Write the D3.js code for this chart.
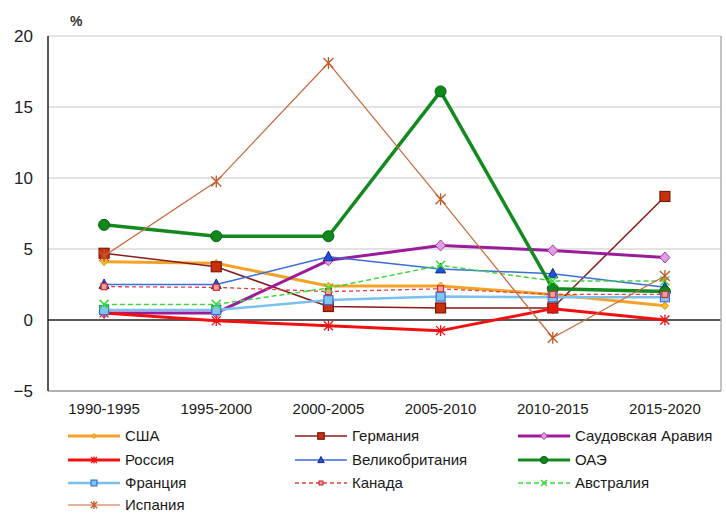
<!DOCTYPE html>
<html><head><meta charset="utf-8">
<script src="https://cdn.jsdelivr.net/npm/d3@7"></script>
<style>body{margin:0;background:#fff}svg{display:block;font-family:"Liberation Sans",Arial,sans-serif}</style>
</head><body>
<svg id="c" width="726" height="513"></svg>
<script>
const categories = ["1990-1995","1995-2000","2000-2005","2005-2010","2010-2015","2015-2020"];
const yTicks = [-5,0,5,10,15,20];
const usa = [4.1, 4.0, 2.4, 2.4, 1.8, 1.0];
const germany = [4.7, 3.75, 0.95, 0.85, 0.85, 8.7];
const saudi = [0.5, 0.5, 4.2, 5.25, 4.9, 4.4];
const russia = [0.5, -0.05, -0.4, -0.75, 0.8, 0.0];
const uk = [2.5, 2.5, 4.45, 3.6, 3.25, 2.3];
const uae = [6.7, 5.9, 5.9, 16.1, 2.2, 2.0];
const france = [0.7, 0.7, 1.4, 1.65, 1.6, 1.6];
const canada = [2.35, 2.3, 2.0, 2.2, 1.8, 1.8];
const australia = [1.1, 1.1, 2.25, 3.85, 2.75, 2.75];
const spain = [4.5, 9.75, 18.1, 8.5, -1.25, 3.1];

const seriesNames = ["США","Германия","Саудовская Аравия","Россия","Великобритания","ОАЭ","Франция","Канада","Австралия","Испания"];
const seriesValues = [usa, germany, saudi, russia, uk, uae, france, canada, australia, spain];
const styles = [
  {color:"#F5A22A", w:3, dash:null, marker:"diamond", fill:"#F8C020", stroke:"#E89010", size:7},
  {color:"#8B1A1A", w:1.5, dash:null, marker:"square", fill:"#C8300E", stroke:"#7A1A0A", size:10},
  {color:"#9A1C9A", w:3, dash:null, marker:"diamond", fill:"#E59BE8", stroke:"#A040A0", size:10},
  {color:"#F01010", w:3, dash:null, marker:"star", fill:"none", stroke:"#F01010", size:9},
  {color:"#3A6ED8", w:1.5, dash:null, marker:"triangle", fill:"#1E50E0", stroke:"#1A2A80", size:10},
  {color:"#128A20", w:3.5, dash:null, marker:"circle", fill:"#0E8A1A", stroke:"#0A5A10", size:11},
  {color:"#7CC0F0", w:2.5, dash:null, marker:"square", fill:"#80C4F0", stroke:"#3A6ED8", size:9},
  {color:"#E04040", w:1.3, dash:"4,3", marker:"square", fill:"#F8A0A0", stroke:"#D03030", size:6},
  {color:"#3CD83C", w:1.5, dash:"5,3", marker:"x", fill:"none", stroke:"#3CD83C", size:9},
  {color:"#C8683A", w:1.2, dash:null, marker:"star", fill:"none", stroke:"#C05A28", size:10}
];

const svg = d3.select("#c");
const L = 48, R = 721, T = 36, B = 391;
const x = d3.scaleBand().domain(categories).range([L, R]);
const y = d3.scaleLinear().domain([-5, 20]).range([B, T]);
const cx = c => x(c) + x.bandwidth()/2;

svg.append("g").selectAll("line").data(yTicks).join("line")
  .attr("x1", L).attr("x2", R).attr("y1", d=>y(d)).attr("y2", d=>y(d))
  .attr("stroke", d => d===0 ? "#222" : "#c8c8c8").attr("stroke-width", d => d===0?1.5:1.2);
svg.append("line").attr("x1",R).attr("x2",R).attr("y1",T).attr("y2",B).attr("stroke","#b0b0b0").attr("stroke-width",1.5);
svg.append("line").attr("x1",L).attr("x2",R).attr("y1",B).attr("y2",B).attr("stroke","#a0a0a0").attr("stroke-width",1.5);
svg.append("line").attr("x1",L).attr("x2",L).attr("y1",T).attr("y2",B).attr("stroke","#222").attr("stroke-width",1.5);

const yAxis = d3.axisLeft(y).tickValues(yTicks).tickSize(0).tickPadding(15);
const ya = svg.append("g").attr("transform",`translate(${L},0)`).call(yAxis);
ya.select(".domain").remove();
ya.selectAll("text").attr("font-size",17).attr("fill","#222").attr("font-family","Liberation Sans, Arial, sans-serif");

const xAxis = d3.axisBottom(x).tickSize(0).tickPadding(12);
const xa = svg.append("g").attr("transform",`translate(0,${B})`).call(xAxis);
xa.select(".domain").remove();
xa.selectAll("text").attr("font-size",15).attr("fill","#1a1a1a").attr("font-family","Liberation Sans, Arial, sans-serif");

svg.append("text").attr("x",70).attr("y",26).attr("font-size",14).attr("font-weight","bold").attr("fill","#333").text("%");

function drawMarker(g, st, px, py, scale) {
  const s = st.size*(scale||1), h = s/2;
  if (st.marker==="circle") g.append("circle").attr("cx",px).attr("cy",py).attr("r",h).attr("fill",st.fill).attr("stroke",st.stroke).attr("stroke-width",1);
  else if (st.marker==="square") g.append("rect").attr("x",px-h).attr("y",py-h).attr("width",s).attr("height",s).attr("fill",st.fill).attr("stroke",st.stroke).attr("stroke-width",1.2);
  else if (st.marker==="diamond") g.append("path").attr("d",`M${px},${py-h*1.1}L${px+h},${py}L${px},${py+h*1.1}L${px-h},${py}Z`).attr("fill",st.fill).attr("stroke",st.stroke).attr("stroke-width",1);
  else if (st.marker==="triangle") g.append("path").attr("d",`M${px},${py-h*1.1}L${px+h},${py+h*0.8}L${px-h},${py+h*0.8}Z`).attr("fill",st.fill).attr("stroke",st.stroke).attr("stroke-width",1);
  else if (st.marker==="x") g.append("path").attr("d",`M${px-h},${py-h}L${px+h},${py+h}M${px-h},${py+h}L${px+h},${py-h}`).attr("stroke",st.stroke).attr("stroke-width",1.5).attr("fill","none");
  else if (st.marker==="star") g.append("path").attr("d",`M${px-h},${py-h}L${px+h},${py+h}M${px-h},${py+h}L${px+h},${py-h}M${px},${py-h*1.2}L${px},${py+h*1.2}`).attr("stroke",st.stroke).attr("stroke-width",1.3).attr("fill","none");
}

const line = d3.line().x((d,i)=>cx(categories[i])).y(d=>y(d));
const plot = svg.append("g");
seriesValues.forEach((vals, k) => {
  const st = styles[k];
  const g = plot.append("g");
  g.append("path").attr("d", line(vals)).attr("fill","none").attr("stroke",st.color)
    .attr("stroke-width",st.w).attr("stroke-dasharray",st.dash).attr("stroke-linejoin","round");
  vals.forEach((v,i)=>drawMarker(g, st, cx(categories[i]), y(v)));
});

const legX = [68, 295, 518], legY = [436, 460, 483, 505];
seriesNames.forEach((name, k) => {
  const col = k % 3, row = Math.floor(k / 3);
  const st = styles[k];
  const lx = legX[col], ly = legY[row];
  const g = svg.append("g");
  g.append("line").attr("x1",lx).attr("x2",lx+52).attr("y1",ly).attr("y2",ly).attr("stroke",st.color)
    .attr("stroke-width",Math.min(st.w,3)).attr("stroke-dasharray",st.dash);
  drawMarker(g, st, lx+26, ly, 0.65);
  g.append("text").attr("x",lx+57).attr("y",ly+5).attr("font-size",15).attr("fill","#1a1a1a").text(name);
});
</script>
</body></html>
